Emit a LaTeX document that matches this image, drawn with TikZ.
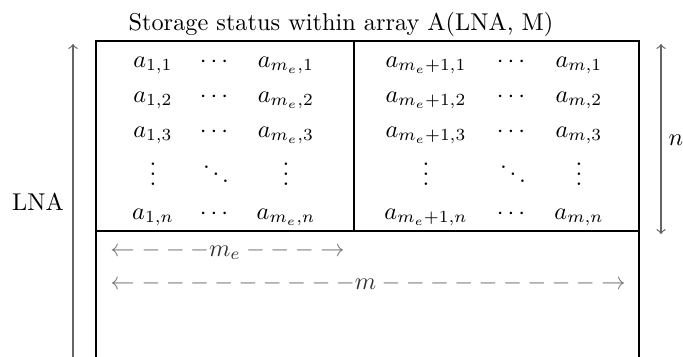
\documentclass[tikz,border=0pt]{standalone}
\usepackage{amsmath}
\newcommand{\dsh}{\mathord{-}\mskip\medmuskip}
\newcommand{\lastdsh}{\mathord{-}}
\begin{document}
\begin{tikzpicture}[x=0.4115pt, y=-0.4115pt,
  boxline/.style={line width=1.1pt, black},
  vdim/.style={line width=0.5pt, black!60},
  dimtext/.style={inner sep=0pt, anchor=base west, text=black!55},
  entry/.style={inner sep=0pt, anchor=base}]
\useasboundingbox (0,0) rectangle (683,356);
\clip (0,0) rectangle (683,356);
% title
\node[anchor=base, inner sep=0pt] (title) at (341,30) {Storage status within array A(LNA, M)};
% box
\coordinate (tl) at (96,41); \coordinate (tr) at (639,41);
\coordinate (bl) at (96,380); \coordinate (br) at (639,380);
\coordinate (dt) at (354,41); \coordinate (db) at (354,231);
\coordinate (hl) at (96,231); \coordinate (hr) at (639,231);
\draw[boxline] (bl) -- (tl) -- (tr) -- (br);
\draw[boxline] (dt) -- (db);
\draw[boxline] (hl) -- (hr);
% left block
\node[entry] (a11) at (153,67) {$a_{1,1}$};
\node[entry] (c11) at (216,67) {$\cdots$};
\node[entry] (e11) at (286,67) {$a_{m_e,1}$};
\node[entry] (a12) at (153,102) {$a_{1,2}$};
\node[entry] (c12) at (216,102) {$\cdots$};
\node[entry] (e12) at (286,102) {$a_{m_e,2}$};
\node[entry] (a13) at (153,137) {$a_{1,3}$};
\node[entry] (c13) at (216,137) {$\cdots$};
\node[entry] (e13) at (286,137) {$a_{m_e,3}$};
\node[entry] (v1) at (153,185) {$\vdots$};
\node[entry] (d1) at (216,185) {$\ddots$};
\node[entry] (v2) at (286,185) {$\vdots$};
\node[entry] (a1n) at (153,219) {$a_{1,n}$};
\node[entry] (c1n) at (216,219) {$\cdots$};
\node[entry] (e1n) at (286,219) {$a_{m_e,n}$};
% right block
\node[entry] (f11) at (426,67) {$a_{m_e+1,1}$};
\node[entry] (g11) at (513,67) {$\cdots$};
\node[entry] (h11) at (579,67) {$a_{m,1}$};
\node[entry] (f12) at (426,102) {$a_{m_e+1,2}$};
\node[entry] (g12) at (513,102) {$\cdots$};
\node[entry] (h12) at (579,102) {$a_{m,2}$};
\node[entry] (f13) at (426,137) {$a_{m_e+1,3}$};
\node[entry] (g13) at (513,137) {$\cdots$};
\node[entry] (h13) at (579,137) {$a_{m,3}$};
\node[entry] (v3) at (426,185) {$\vdots$};
\node[entry] (d2) at (513,185) {$\ddots$};
\node[entry] (v4) at (579,185) {$\vdots$};
\node[entry] (f1n) at (426,219) {$a_{m_e+1,n}$};
\node[entry] (g1n) at (513,219) {$\cdots$};
\node[entry] (h1n) at (579,219) {$a_{m,n}$};
% dashed dimension labels (set as text)
\node[dimtext] (medim) at (110,256)
  {$\leftarrow\dsh\dsh\lastdsh{\color{black!80}m_e}\mskip\medmuskip\dsh\dsh\lastdsh\rightarrow$};
\node[dimtext] (mdim) at (110,289)
  {$\leftarrow\dsh\dsh\dsh\dsh\dsh\dsh\dsh\dsh\lastdsh{\color{black!80}m}\mskip\medmuskip\dsh\dsh\dsh\dsh\dsh\dsh\dsh\dsh\lastdsh\rightarrow$};
% LNA arrow
\coordinate (lnat) at (73,44); \coordinate (lnab) at (73,380);
\draw[vdim, ->, >=to] (lnab) -- (lnat);
\node[anchor=base, inner sep=0pt] (lna) at (38,210) {LNA};
% n arrow
\coordinate (nt) at (661,44); \coordinate (nb) at (661,234);
\draw[vdim, <->, >=to] (nt) -- (nb);
\node[anchor=base, inner sep=0pt] (n) at (676,145) {$n$};
\end{tikzpicture}
\end{document}
